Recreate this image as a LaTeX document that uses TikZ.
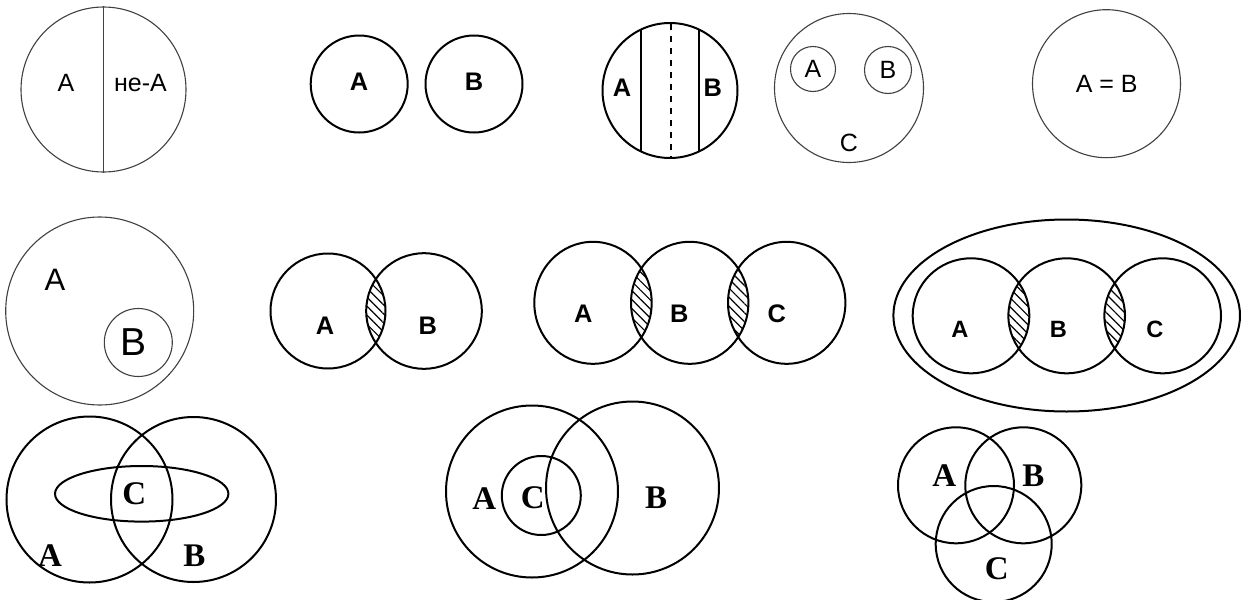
\documentclass[tikz,border=0pt]{standalone}
\usepackage{fontspec}
\setmainfont{Liberation Serif}
\newfontfamily\arial{Liberation Sans}
\usetikzlibrary{patterns.meta}
\tikzset{
  thinset/.style={draw=black!75, line width=0.55pt},
  set/.style={draw=black, line width=1pt},
  hatch/.style={pattern={Lines[angle=-45, distance=3.2pt, line width=0.6pt]}},
  plainlbl/.style={font=\arial\fontsize{12.5}{14}\selectfont},
  boldlbl/.style={font=\arial\bfseries\fontsize{12.7}{14}\selectfont},
  smalllbl/.style={font=\arial\bfseries\fontsize{11.8}{13}\selectfont},
  serlbl/.style={font=\bfseries\fontsize{16.5}{18}\selectfont},
}
\begin{document}
\begin{tikzpicture}[x=0.5pt, y=-0.5pt]
  \useasboundingbox (0,0) rectangle (1249,600);

  % A / not-A
  \draw[thinset] (103.5,89.5) circle (82.5);
  \draw[thinset] (103.5,6) -- (103.5,173);
  \node[plainlbl] (notA_a) at (66,83) {A};
  \node[plainlbl] (notA_n) at (140.5,83) {не-A};

  % disjoint A, B
  \draw[set] (359.2,84) circle (48.5);
  \draw[set] (474,84) circle (48.5);
  \node[boldlbl] (dis_a) at (359,82) {A};
  \node[boldlbl] (dis_b) at (474,82) {B};

  % split circle
  \draw[set] (670,90.5) circle (67.5);
  \begin{scope}
    \clip (670,90.5) circle (67.5);
    \draw[set] (641,0) -- (641,200);
    \draw[set] (698.7,0) -- (698.7,200);
    \draw[set, dashed] (670.7,0) -- (670.7,200);
  \end{scope}
  \node[boldlbl] (spl_a) at (622,88) {A};
  \node[boldlbl] (spl_b) at (712.7,88) {B};

  % A, B inside C
  \draw[thinset] (849,88) circle (74.5);
  \draw[thinset] (813,69) circle (22.5);
  \draw[thinset] (888,70) circle (23.5);
  \node[plainlbl] (sub_a) at (813,69) {A};
  \node[plainlbl] (sub_b) at (888,70) {B};
  \node[plainlbl] (sub_c) at (849,143) {C};

  % A = B
  \draw[thinset] (1106.5,83.7) circle (74);
  \node[plainlbl] (eq) at (1106.7,84) {A = B};

  % B inside A
  \draw[thinset] (99.7,311) circle (94);
  \draw[thinset] (138.3,342.5) circle (34);
  \node[font=\arial\fontsize{15.5}{17}\selectfont] (inc_a) at (55,280) {A};
  \node[font=\arial\fontsize{19.5}{21}\selectfont] (inc_b) at (133.5,341.7) {B};

  % two crossing sets
  \begin{scope}
    \clip (328,311) circle (57.5);
    \fill[hatch] (424,311) circle (57.8);
  \end{scope}
  \draw[set] (328,311) circle (57.5);
  \draw[set] (424,311) circle (57.8);
  \node[boldlbl] (two_a) at (325,326) {A};
  \node[boldlbl] (two_b) at (427.7,326) {B};

  % chain of three
  \begin{scope}
    \clip (593,302.8) ellipse (58.7 and 61);
    \fill[hatch] (689.7,302.8) ellipse (58.7 and 61);
  \end{scope}
  \begin{scope}
    \clip (689.7,302.8) ellipse (58.7 and 61);
    \fill[hatch] (786.7,302.8) ellipse (58.7 and 61);
  \end{scope}
  \draw[set] (593,302.8) ellipse (58.7 and 61);
  \draw[set] (689.7,302.8) ellipse (58.7 and 61);
  \draw[set] (786.7,302.8) ellipse (58.7 and 61);
  \node[boldlbl] (chn_a) at (583.3,313.3) {A};
  \node[boldlbl] (chn_b) at (679.3,313.3) {B};
  \node[boldlbl] (chn_c) at (776.7,313.3) {C};

  % chain of three in a genus
  \draw[set] (1066.7,315.5) ellipse (173.3 and 96);
  \begin{scope}
    \clip (971,315.8) ellipse (58.3 and 57.5);
    \fill[hatch] (1066.7,315.8) ellipse (58.3 and 57.5);
  \end{scope}
  \begin{scope}
    \clip (1066.7,315.8) ellipse (58.3 and 57.5);
    \fill[hatch] (1162.7,315.8) ellipse (58.3 and 57.5);
  \end{scope}
  \draw[set] (971,315.8) ellipse (58.3 and 57.5);
  \draw[set] (1066.7,315.8) ellipse (58.3 and 57.5);
  \draw[set] (1162.7,315.8) ellipse (58.3 and 57.5);
  \node[smalllbl] (gen_a) at (960,329.3) {A};
  \node[smalllbl] (gen_b) at (1058.3,329.3) {B};
  \node[smalllbl] (gen_c) at (1155,329.3) {C};

  % A, B crossed by C
  \draw[set] (89.5,499.5) circle (83);
  \draw[set] (193.5,499.5) circle (82.5);
  \draw[set] (141.7,493.8) ellipse (86.7 and 27.8);
  \node[serlbl] (crs_c) at (134.3,493.3) {C};
  \node[serlbl] (crs_a) at (50,555.7) {A};
  \node[serlbl] (crs_b) at (194.3,555.7) {B};

  % C in A, crossing B
  \draw[set] (532,491.5) circle (86);
  \draw[set] (632.5,488) circle (86.5);
  \draw[set] (541.3,495.5) circle (39.5);
  \node[serlbl] (in_a) at (484.3,498.3) {A};
  \node[serlbl] (in_c) at (532.7,498) {C};
  \node[serlbl] (in_b) at (656,498) {B};

  % three crossing sets
  \draw[set] (956,485.3) circle (58);
  \draw[set] (1023.3,485.3) circle (58);
  \draw[set] (993.7,544) circle (58);
  \node[serlbl] (tri_a) at (944.3,476) {A};
  \node[serlbl] (tri_b) at (1033.3,476) {B};
  \node[serlbl] (tri_c) at (996.7,568.3) {C};
\end{tikzpicture}
\end{document}
